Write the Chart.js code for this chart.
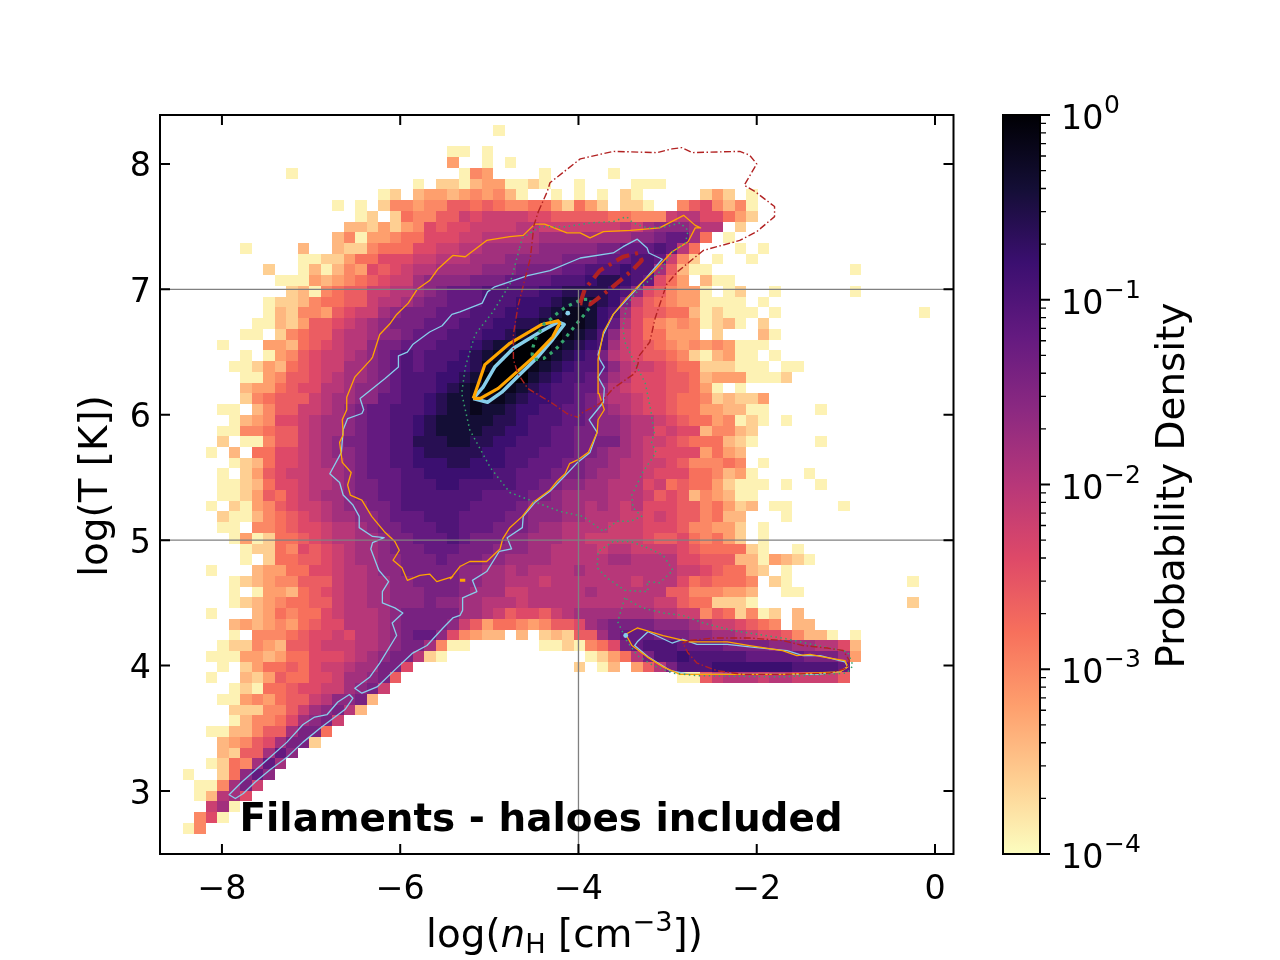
<!DOCTYPE html>
<html><head><meta charset="utf-8">
<script src="https://cdn.jsdelivr.net/npm/chart.js@4"></script>
<style>html,body{margin:0;padding:0;background:#fff}canvas{display:block}</style>
</head><body><canvas id="c" width="1280" height="960"></canvas>
<script>
// Axis ticks
const xTicks=[-8,-6,-4,-2,0];
const yTicks=[3,4,5,6,7,8];
const cbarMajor=[1e-4,1e-3,1e-2,1e-1,1];
const cbarExponents=["−4","−3","−2","−1","0"];
// log10 probability density for each level letter a..t
const levelLog=[-3.9,-3.6,-3.4,-3.2,-3.0,-2.8,-2.6,-2.4,-2.2,-2.0,-1.8,-1.6,-1.4,-1.2,-1.0,-0.8,-0.6,-0.4,-0.2,0];
// Histogram bins
const binX0=-8.437, binDX=0.129, binYTop=8.311, binDY=0.0856;
// Histogram rows from top to bottom: [first column, level letters ('.' = empty)]
const densityRows=[
[27,"a"],
[0,""],
[23,"aa.a"],
[23,"d..a.a"],
[9,"a..............aed....a.....a"],
[20,"a.bbacddaaba..a....aaa"],
[17,"ab.cddcdedeca..a.a.a.ba.....bdb.a"],
[13,"a.a.beedeeggfgfeeffdbfdb.bba..eghecea"],
[15,"ab.bfeeggihiiiihhgggggffeeeijjhhfdb"],
[14,"ccbdbdehghhiiiijjiiiiiiijiklllkjj.b"],
[13,"ceaddeffhhhiijjjjjkkkkkkkkllmnnkf.a"],
[5,"a....c..cbbefffhhiijjkkkkklllllmmnnnonjf...a.a"],
[10,"aabbdffhhhiijjjkkkll"+"lllmmmnnn"+"oonieb.a..a"],
[7,"b..acacedhghijjkkkklllmmmmnnooopookgcaa............a"],
[8,"aaadcdefghiikllllmmmnnnnooopqqponhfd.caa"],
[9,"bcaefggiijjklmnnnooooopp"+"qqqqpolhgedda.ab..a......a"],
[7,"abbceffggijjklmmn"+"nnooopppqrrrq"+"pmigfeddaaaa.a"],
[7,"acbeedghiiklmmm"+"nnnooopppqrssr"+"pokhggffcabaaa.a"+"............a"],
[6,"aacbdgghijklmm"+"mnnnoooppqqrsssrp"+"njhfededabca.b"],
[5,"aa.befggijjkllm"+"nnnoooppqrsttsrqo"+"lihffddd.b...ca"],
[3,"a...ddcfghijjlmmn"+"nnooopqrrtttsrqpo"+"kihg"+"fededed"+"aaa"],
[5,"a.adeghiijklmno"+"nooopqrstttsrqpom"+"jihgg"+"febacdaa.a"],
[4,"aabdcfghiikklmno"+"nooppqstttsrqpoon"+"ljiihgffbbbaaa.aa"],
[5,"aadegghijkklmno"+"ooppqrttttrqpoonm"+"kjhhhggfcdddaaab"],
[5,"cddfghhjjkllmno"+"oopqrsttsrqpoonnl"+"jihhhggfda.a"],
[5,"befgggijkkllnno"+"opqrrsssrqppoonmk"+"jjihhgffebcbbd"],
[3,"aa.ceggiijklmnnoo"+"opqrrsrrqppoonnml"+"kjihhgffddccaa....a"],
[4,"acdehhijkklmnno"+"opqrrrrrqqpooonnml"+"lkjjihgffdeaba.a"],
[3,"aaeefggijkklmnno"+"opqrrrrqqppoonnmml"+"lkjjhihhceecb"],
[3,"b.aaeggijklmmnn"+"ooqqqrrqqppooonnmmm"+"mkjiihgfffcba.....a"],
[2,"a.c.ffhhijkllmnn"+"oopqqqqqppooonnnmml"+"kkjihhhhdfdc"],
[4,"abcfhhijkklmnn"+"oopppqqpppoonnnmmll"+"kjjiihgeeefe.a"],
[3,"a.bdghiijjklmnn"+"noopppppp"+"oonnnmmmlk"+"kjjihhhffecda....a"],
[3,"aabcfhhijjklmmn"+"nooopp"+"ooooo"+"nnmmllkk"+"jjjhifgffdbaaa.a..a"],
[3,"aabdgfhijkklmmnn"+"ooooooo"+"nnnnmmlkkkkjjjighgcedcaa"],
[2,"a.badeghiijkllmmn"+"oooooo"+"nnnnmlllkkjkjijhhhggefdbc.aa....a"],
[3,"baacefghijkkllmnnnooo"+"nnnnmmlllkkjjjiihihggefcc...a"],
[3,"aa.eefghhijjklmmnnnoo"+"nnnmmmlkkjjjjiiihhhgeeddb.a"],
[4,"adabffghijjkklmmnnno"+"nmmmllkkkjjiiiiihgghfefdb.a"],
[5,"abbfehghijkklmmmnnn"+"mmmlllkkjjjjijjiiiihgffffba..a"],
[5,"a.bffgghijkkllmmmnmmm"+"llkkkkjjjjjkkjjjjhhgggccadcba"],
[2,"a...cddffhhijjkllmmmmm"+"llkkjkjjjjkjjjjjjjjiihgffcb.a"],
[4,"abcdeegggijjkkllmmmm"+"llkkjjji"+"jjjjjjj"+"i"+"jjj"+"hfgfffe.ba"+".........."+"a"],
[4,"a.addcfghijjkklllmmm"+"lkkkiijjjjjkjjjjjjggeeeddc..aa"],
[4,"abcdeffggijjkklllmll"+"kkjjji"+"jjjjjjjjjjj"+"iigffbbba"+"............."+"b"],
[2,"a...cdfeffhijjjklmmmmm"+"kkjighhgij"+"kkkkkkk"+"jjii"+"egfbeab.c"],
[4,"cdcdedfghhjjjklmmmml"+"igdffedeggh"+"klmmmmlllkjiihgfe.cc"],
[4,"a.eeefghhihjjklmnnlh"+"edcc.c.bcbggkmnnnmmmllkkjihhgecca.a"],
[3,"abbedcgghiiijjklmmkeaa"+"......"+"aabaefhmnooonnnnmmmmllkkjjhc"],
[2,"aaaddcdffhhhijklmmjba"+"............"+"abdfjmoopooooonnnnnmmmkd"],
[3,"a.bdffgfhiijkkmmh"+".............."+"b.ac.dgjmooopppppppoooon"],
[2,"a..cbdgffhhikklmg"+"........................"+"aagijjjijjiiiig"],
[4,"abaffghhiiklmi"],
[3,"aadedfggijllmc"],
[4,"bbbeegiklmjc"],
[4,"aceefhklmi"],
[2,"aacceggkmmf"],
[3,"cdeghkmmb"],
[3,"cbggknl"],
[2,"abfeknk"],
[0,"a..bflnl"],
[1,"aaekmi"],
[1,"acjkh"],
[2,"ika"],
[1,"eha"],
[0,"ae"]
];
// Contours, [log nH, log T]
const orangeOuter=[[-5.44,4.69],[-5.33,4.79],[-5.22,4.83],[-5.03,4.83],[-4.88,4.93],[-4.85,5.01],[-4.77,5.10],[-4.63,5.19],[-4.51,5.30],[-4.32,5.40],[-4.24,5.47],[-4.15,5.53],[-4.10,5.61],[-4.01,5.64],[-3.89,5.70],[-3.79,5.86],[-3.78,5.96],[-3.71,6.04],[-3.77,6.17],[-3.78,6.44],[-3.72,6.66],[-3.61,6.80],[-3.46,6.93],[-3.31,7.04],[-3.16,7.14],[-2.95,7.30],[-2.77,7.38],[-2.69,7.49],[-2.63,7.49],[-2.69,7.51],[-2.82,7.59],[-3.09,7.49],[-3.42,7.47],[-3.72,7.46],[-3.87,7.41],[-3.98,7.45],[-4.13,7.45],[-4.38,7.52],[-4.49,7.52],[-4.62,7.43],[-4.77,7.42],[-5.03,7.39],[-5.27,7.26],[-5.41,7.27],[-5.58,7.16],[-5.67,7.07],[-5.81,7.00],[-5.91,6.89],[-6.04,6.80],[-6.11,6.73],[-6.23,6.64],[-6.31,6.46],[-6.33,6.44],[-6.51,6.30],[-6.60,6.14],[-6.60,6.04],[-6.65,5.96],[-6.64,5.84],[-6.68,5.78],[-6.65,5.62],[-6.55,5.54],[-6.59,5.44],[-6.56,5.36],[-6.43,5.32],[-6.32,5.19],[-6.18,5.07],[-6.06,4.99],[-6.01,4.92],[-6.08,4.84],[-5.98,4.78],[-5.92,4.68],[-5.78,4.72],[-5.67,4.73],[-5.59,4.67],[-5.41,4.71],[-5.44,4.69]];
const orangeBlob=[[-5.33,4.68],[-5.27,4.68]];
const orangeIsland=[[-3.47,4.25],[-3.34,4.30],[-3.05,4.24],[-2.75,4.19],[-2.33,4.19],[-2.08,4.16],[-1.71,4.12],[-1.55,4.08],[-1.40,4.09],[-1.26,4.07],[-1.01,4.04],[-0.98,3.99],[-1.07,3.95],[-1.71,3.93],[-2.45,3.93],[-2.86,3.93],[-3.05,3.99],[-3.23,4.07],[-3.40,4.16],[-3.47,4.25]];
const orangeInner=[[-5.18,6.13],[-5.05,6.40],[-4.77,6.57],[-4.41,6.72],[-4.23,6.75],[-4.21,6.73],[-4.29,6.62],[-4.52,6.45],[-4.90,6.21],[-5.10,6.13],[-5.18,6.13]];
const blueOuter=[[-5.30,4.44],[-5.30,4.54],[-5.14,4.59],[-5.19,4.68],[-5.03,4.75],[-4.89,4.91],[-4.75,4.93],[-4.80,5.02],[-4.63,5.10],[-4.62,5.19],[-4.49,5.30],[-4.32,5.39],[-4.17,5.50],[-4.01,5.62],[-3.87,5.70],[-3.79,5.86],[-3.88,5.96],[-3.72,6.10],[-3.71,6.21],[-3.78,6.30],[-3.71,6.38],[-3.76,6.44],[-3.78,6.48],[-3.72,6.64],[-3.61,6.80],[-3.34,7.01],[-3.06,7.24],[-3.21,7.29],[-3.23,7.33],[-3.34,7.40],[-3.50,7.34],[-3.61,7.29],[-3.98,7.25],[-4.32,7.15],[-4.57,7.11],[-4.94,7.02],[-5.02,6.98],[-5.08,6.89],[-5.33,6.82],[-5.42,6.80],[-5.53,6.71],[-5.67,6.66],[-5.86,6.56],[-5.92,6.50],[-6.02,6.47],[-6.02,6.38],[-6.17,6.29],[-6.45,6.13],[-6.41,6.04],[-6.43,6.01],[-6.59,5.97],[-6.64,5.88],[-6.66,5.70],[-6.79,5.53],[-6.68,5.46],[-6.64,5.36],[-6.53,5.28],[-6.46,5.19],[-6.46,5.10],[-6.31,5.03],[-6.18,5.02],[-6.31,4.98],[-6.33,4.93],[-6.24,4.76],[-6.13,4.67],[-6.20,4.59],[-6.20,4.50],[-6.06,4.46],[-5.97,4.42],[-6.09,4.34],[-6.04,4.24],[-6.23,4.02],[-6.34,3.91],[-6.51,3.82],[-6.43,3.78],[-6.26,3.83],[-6.04,3.98],[-5.86,4.10],[-5.70,4.16],[-5.52,4.30],[-5.41,4.38],[-5.33,4.40],[-5.30,4.44]];
const blueSliver=[[-6.57,3.77],[-6.53,3.74],[-6.62,3.65],[-6.90,3.50],[-7.09,3.39],[-7.27,3.27],[-7.46,3.17],[-7.63,3.07],[-7.76,2.98],[-7.85,2.94],[-7.92,2.97],[-7.78,3.07],[-7.46,3.27],[-7.27,3.39],[-7.09,3.53],[-6.96,3.59],[-6.82,3.61],[-6.70,3.71],[-6.57,3.77]];
const blueIsland=[[-3.22,4.27],[-3.34,4.19],[-3.37,4.16],[-3.22,4.07],[-2.97,3.96],[-2.75,3.93],[-2.08,3.93],[-1.32,3.93],[-1.07,3.95],[-0.98,3.99],[-1.01,4.03],[-1.29,4.08],[-1.48,4.08],[-1.66,4.12],[-2.08,4.15],[-2.33,4.17],[-2.67,4.17],[-2.83,4.21],[-2.95,4.18],[-3.22,4.27]];
const blueInner=[[-5.18,6.13],[-5.02,6.10],[-4.86,6.18],[-4.69,6.30],[-4.47,6.45],[-4.29,6.60],[-4.16,6.72],[-4.23,6.74],[-4.43,6.66],[-4.73,6.53],[-4.94,6.38],[-5.07,6.22],[-5.18,6.13]];
const blueDots=[[-4.12,6.81],[-3.47,4.24]];
const redOuter=[[-4.45,7.62],[-4.35,7.78],[-4.32,7.85],[-4.23,7.90],[-3.98,8.04],[-3.61,8.10],[-3.12,8.09],[-2.95,8.12],[-2.84,8.13],[-2.72,8.09],[-2.19,8.10],[-2.08,8.07],[-2.00,8.00],[-2.14,7.83],[-2.02,7.78],[-1.80,7.66],[-1.80,7.58],[-2.00,7.46],[-2.19,7.39],[-2.60,7.31],[-2.89,7.14],[-3.01,7.04],[-3.05,6.96],[-3.14,6.77],[-3.20,6.58],[-3.33,6.46],[-3.33,6.41],[-3.37,6.33],[-3.61,6.21],[-3.76,6.09],[-3.95,6.02],[-4.01,5.98],[-4.13,6.01],[-4.29,6.09],[-4.57,6.21],[-4.68,6.33],[-4.73,6.44],[-4.73,6.64],[-4.68,6.86],[-4.54,7.25],[-4.50,7.51],[-4.45,7.62]];
const redIsland=[[-2.75,4.20],[-2.49,4.22],[-2.08,4.22],[-1.71,4.20],[-1.48,4.16],[-1.21,4.14],[-1.03,4.12],[-0.96,4.04],[-0.99,3.98],[-1.18,3.94],[-1.71,3.93],[-2.15,3.93],[-2.45,3.96],[-2.67,4.02],[-2.77,4.10],[-2.83,4.18],[-2.75,4.20]];
const redInner=[[-3.98,6.89],[-3.93,7.00],[-3.76,7.15],[-3.50,7.26],[-3.33,7.29],[-3.29,7.23],[-3.40,7.15],[-3.65,7.00],[-3.87,6.88],[-3.98,6.89]];
const greenOuter=[[-4.66,7.33],[-4.63,7.41],[-4.43,7.50],[-4.13,7.50],[-3.87,7.53],[-3.61,7.54],[-3.46,7.58],[-3.39,7.53],[-3.23,7.49],[-3.01,7.50],[-2.86,7.53],[-2.77,7.47],[-2.80,7.37],[-2.94,7.30],[-3.09,7.14],[-3.31,7.01],[-3.46,6.88],[-3.50,6.69],[-3.48,6.58],[-3.40,6.46],[-3.25,6.25],[-3.19,6.04],[-3.15,5.86],[-3.18,5.78],[-3.13,5.70],[-3.28,5.54],[-3.40,5.36],[-3.39,5.26],[-3.29,5.19],[-3.42,5.15],[-3.57,5.15],[-3.72,5.07],[-3.95,5.19],[-4.21,5.23],[-4.47,5.30],[-4.77,5.38],[-4.99,5.58],[-5.22,5.88],[-5.31,6.17],[-5.27,6.38],[-5.16,6.64],[-4.96,6.82],[-4.77,7.04],[-4.66,7.33]];
const greenLoop=[[-3.61,4.99],[-3.78,4.91],[-3.79,4.78],[-3.68,4.70],[-3.48,4.60],[-3.22,4.59],[-3.23,4.67],[-3.09,4.66],[-2.94,4.76],[-3.05,4.88],[-3.23,4.94],[-3.42,4.99],[-3.61,4.99]];
const greenIsland=[[-3.48,4.54],[-3.56,4.35],[-3.46,4.20],[-3.34,4.08],[-3.16,4.00],[-2.94,3.94],[-2.67,3.92],[-1.71,3.91],[-0.99,3.94],[-0.92,4.00],[-0.98,4.11],[-1.32,4.16],[-1.71,4.22],[-2.27,4.28],[-2.60,4.34],[-2.83,4.40],[-3.05,4.42],[-3.23,4.45],[-3.34,4.48],[-3.48,4.54]];
const greenInner=[[-4.49,6.44],[-4.39,6.45],[-4.31,6.49],[-4.23,6.54],[-4.17,6.59],[-4.05,6.70],[-3.98,6.76],[-3.92,6.81],[-3.86,6.87],[-3.86,6.92],[-3.96,6.92],[-4.05,6.89],[-4.14,6.86],[-4.22,6.82],[-4.30,6.77],[-4.38,6.73],[-4.43,6.67],[-4.48,6.61],[-4.51,6.54],[-4.52,6.48],[-4.49,6.44]];
// Reference lines
const guideLogT=[5,7];
const guideLogN=[-4];
const guideLogNTop=7;
// magma colour map samples (0 = dark)
const magma=["#000004","#140e36","#3b0f70","#641a80","#8c2981","#b73779","#de4968","#f7705c","#fe9f6d","#fecf92","#fcfdbf"];

const FONT='"DejaVu Sans"';
const xMin=-8.695,xMax=0.2076,yMin=2.498,yMax=8.39;
function hex(c){return [1,3,5].map(i=>parseInt(c.substr(i,2),16));}
function colorAt(logV){
  const t=Math.min(1,Math.max(0,-logV/4))*10, i=Math.min(9,Math.floor(t)), f=t-i;
  const a=hex(magma[i]),b=hex(magma[i+1]);
  return 'rgb('+a.map((v,j)=>Math.round(v+(b[j]-v)*f)).join(',')+')';
}
const cells=[];
densityRows.forEach((r,k)=>{
  [...r[1]].forEach((ch,n)=>{
    if(ch==='.')return;
    cells.push({x:binX0+binDX*(r[0]+n+0.5),y:binYTop-binDY*(k+0.5),v:levelLog[ch.charCodeAt(0)-97]});
  });
});
const pts=a=>a.map(p=>({x:p[0],y:p[1]}));
const line=(a,color,w,dash)=>({data:pts(a),showLine:true,borderColor:color,borderWidth:w,borderDash:dash||[],pointRadius:0,tension:0,fill:false,borderCapStyle:'butt',borderJoinStyle:'round',order:1});
const ORANGE='#ffa500',BLUE='#87ceeb',RED='#b22222',GREEN='#35a56e',GREY='#808080';
const THIN=1.3;
const datasets=[
 {label:'density',data:cells,pointRadius:0,showLine:false,order:9},
 ...guideLogT.map(v=>line([[xMin,v],[xMax,v]],GREY,1.3)),
 ...guideLogN.map(v=>line([[v,yMin],[v,guideLogNTop]],GREY,1.3)),
 line(redOuter,RED,1.4,[7,2.5,1.5,2.5]),line(redIsland,RED,1.4,[7,2.5,1.5,2.5]),
 line(greenOuter,GREEN,1.5,[1.5,3.5]),line(greenLoop,GREEN,1.5,[1.5,3.5]),line(greenIsland,GREEN,1.5,[1.5,3.5]),
 line(orangeOuter,ORANGE,THIN),line(orangeBlob,ORANGE,3),line(orangeIsland,ORANGE,THIN),
 line(blueOuter,BLUE,THIN),line(blueSliver,BLUE,THIN),line(blueIsland,BLUE,THIN),
 line(redInner,RED,4.2,[14,6,3,6]),line(greenInner,GREEN,3.2,[3.2,5]),
 line(orangeInner,ORANGE,3.2),line(blueInner,BLUE,3.5),
 {data:pts(blueDots),pointRadius:2.4,pointBackgroundColor:BLUE,pointBorderWidth:0,showLine:false}
];
const heatPlugin={id:'heat',beforeDatasetsDraw(chart){
  const c=chart.ctx,sx=chart.scales.x,sy=chart.scales.y,meta=chart.getDatasetMeta(0);
  c.save();
  meta.data.forEach((pt,i)=>{
    const d=cells[i];
    const x0=Math.round(sx.getPixelForValue(d.x-binDX/2)),x1=Math.round(sx.getPixelForValue(d.x+binDX/2));
    const y0=Math.round(sy.getPixelForValue(d.y+binDY/2)),y1=Math.round(sy.getPixelForValue(d.y-binDY/2));
    c.fillStyle=colorAt(d.v);c.fillRect(x0,y0,x1-x0,y1-y0);
  });
  c.restore();
}};
const framePlugin={id:'frame',afterDatasetsDraw(chart){
  const c=chart.ctx,a=chart.chartArea,sx=chart.scales.x,sy=chart.scales.y,cb=chart.scales.cb;
  c.save();
  c.strokeStyle='#000';c.lineWidth=2;
  c.strokeRect(a.left,a.top,a.right-a.left,a.bottom-a.top);
  c.beginPath();
  xTicks.forEach(v=>{const p=sx.getPixelForValue(v);c.moveTo(p,a.bottom);c.lineTo(p,a.bottom-10);c.moveTo(p,a.top);c.lineTo(p,a.top+10);});
  yTicks.forEach(v=>{const p=sy.getPixelForValue(v);c.moveTo(a.left,p);c.lineTo(a.left+10,p);c.moveTo(a.right,p);c.lineTo(a.right-10,p);});
  c.stroke();
  c.fillStyle='#000';
  // y tick labels
  c.font='33.3px '+FONT;c.textAlign='right';c.textBaseline='alphabetic';
  yTicks.forEach(v=>c.fillText(String(v),151,sy.getPixelForValue(v)+12.5));
  // annotation
  c.font='bold 38.9px '+FONT;c.textAlign='center';
  c.fillText('Filaments - haloes included',sx.getPixelForValue(-4.42),831);
  // y title
  c.save();c.translate(107,486);c.rotate(-Math.PI/2);c.font='38.9px '+FONT;c.textAlign='center';c.fillText('log(T [K])',0,0);c.restore();
  // x title with italic n, subscript H and superscript -3
  const parts=[['log(',38.9,0,''],['n',38.9,0,'italic '],['H',27.2,6,''],[' [cm',38.9,0,''],['−3',27.2,-16,''],['])',38.9,0,'']];
  let w=0;c.textAlign='left';
  parts.forEach(p=>{c.font=p[3]+p[1]+'px '+FONT;w+=c.measureText(p[0]).width;});
  let px=564.5-w/2;
  parts.forEach(p=>{c.font=p[3]+p[1]+'px '+FONT;c.fillText(p[0],px,947+p[2]);px+=c.measureText(p[0]).width;});
  // colour bar
  const bl=1003,br=1040,top=cb.getPixelForValue(1),bot=cb.getPixelForValue(1e-4);
  const g=c.createLinearGradient(0,bot,0,top);
  magma.slice().reverse().forEach((col,i)=>g.addColorStop(i/10,col));
  c.fillStyle=g;c.fillRect(bl,top,br-bl,bot-top);
  c.strokeStyle='#000';c.lineWidth=2;c.strokeRect(bl,top,br-bl,bot-top);
  c.beginPath();
  [-4,-3,-2,-1].forEach(e=>{[2,3,4,5,6,7,8,9].forEach(m=>{const p=cb.getPixelForValue(m*Math.pow(10,e));c.moveTo(br,p);c.lineTo(br+6,p);});});
  c.lineWidth=1.3;c.stroke();
  c.beginPath();
  cbarMajor.forEach(v=>{const p=cb.getPixelForValue(v);c.moveTo(br,p);c.lineTo(br+10,p);});
  c.lineWidth=2;c.stroke();
  c.fillStyle='#000';c.textAlign='left';
  cbarMajor.forEach((v,i)=>{const p=cb.getPixelForValue(v);
    c.font='33.3px '+FONT;c.fillText('10',1061,p+14);
    c.font='25px '+FONT;c.fillText(cbarExponents[i],1104,p-2);});
  c.save();c.translate(1184,485.5);c.rotate(-Math.PI/2);c.font='38.9px '+FONT;c.textAlign='center';c.fillText('Probability Density',0,0);c.restore();
  c.restore();
}};
new Chart(document.getElementById('c'),{
  type:'scatter',
  data:{datasets},
  plugins:[heatPlugin,framePlugin],
  options:{
    responsive:false,animation:false,devicePixelRatio:1,
    layout:{padding:{top:115,right:326.5,left:0,bottom:0}},
    plugins:{legend:{display:false},tooltip:{enabled:false},title:{display:false}},
    events:[],
    scales:{
      x:{type:'linear',min:xMin,max:xMax,grid:{display:false},border:{display:false},
        afterBuildTicks:s=>{s.ticks=xTicks.map(v=>({value:v}));},
        afterFit:s=>{s.height=106;},
        ticks:{font:{family:'DejaVu Sans',size:33.3},color:'#000',padding:8,maxRotation:0,autoSkip:false,callback:v=>String(v).replace('-','−')}},
      y:{type:'linear',min:yMin,max:yMax,grid:{display:false},border:{display:false},
        afterBuildTicks:s=>{s.ticks=yTicks.map(v=>({value:v}));},
        afterFit:s=>{s.width=160;},
        ticks:{display:false}},
      cb:{type:'logarithmic',min:1e-4,max:1,display:false,position:'right'}
    }
  }
});
</script></body></html>
